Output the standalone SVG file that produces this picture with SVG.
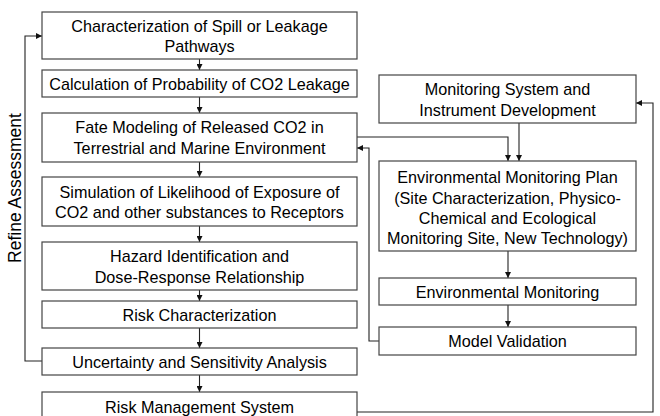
<svg xmlns="http://www.w3.org/2000/svg" width="660" height="416" viewBox="0 0 660 416">
<style>
.box{fill:#fff;stroke:#444;stroke-width:1.2}
.t{font-family:"Liberation Sans",Arial,sans-serif;font-size:16.2px;fill:#000;text-anchor:middle;dominant-baseline:central}
.c{fill:none;stroke:#222;stroke-width:1.1}
</style>
<defs>
<marker id="ah" viewBox="0 0 10 10" refX="10" refY="5" markerWidth="6" markerHeight="6" markerUnits="userSpaceOnUse" orient="auto"><path d="M0,0L10,5L0,10z" fill="#111"/></marker>
</defs>
<rect width="660" height="416" fill="#fff"/>
<g id="connectors">
<path class="c" d="M199.5,59V70" marker-end="url(#ah)"/>
<path class="c" d="M199.5,97V113" marker-end="url(#ah)"/>
<path class="c" d="M199.5,162V177" marker-end="url(#ah)"/>
<path class="c" d="M199.5,226V242" marker-end="url(#ah)"/>
<path class="c" d="M199.5,290V301" marker-end="url(#ah)"/>
<path class="c" d="M199.5,328V348" marker-end="url(#ah)"/>
<path class="c" d="M199.5,375V392" marker-end="url(#ah)"/>
<path class="c" d="M42,361H25V36H42" marker-end="url(#ah)"/>
<path class="c" d="M357,137H508V161" marker-end="url(#ah)"/>
<path class="c" d="M519,123V161" marker-end="url(#ah)"/>
<path class="c" d="M508,251V278" marker-end="url(#ah)"/>
<path class="c" d="M508,305V327" marker-end="url(#ah)"/>
<path class="c" d="M379,341H369V148H357" marker-end="url(#ah)"/>
<path class="c" d="M357,412H653V103H636" marker-end="url(#ah)"/>
</g>
<text class="t" style="font-size:17.5px" transform="translate(15,188) rotate(-90)">Refine Assessment</text>
<g id="n1"><rect class="box" x="42" y="12" width="315" height="47"/><text class="t" x="199.5" y="26">Characterization of Spill or Leakage</text><text class="t" x="199.5" y="46">Pathways</text></g>
<g id="n2"><rect class="box" x="42" y="70" width="315" height="27"/><text class="t" x="199.5" y="84">Calculation of Probability of CO2 Leakage</text></g>
<g id="n3"><rect class="box" x="42" y="113" width="315" height="49"/><text class="t" x="199.5" y="127">Fate Modeling of Released CO2 in</text><text class="t" x="199.5" y="148">Terrestrial and Marine Environment</text></g>
<g id="n4"><rect class="box" x="42" y="177" width="315" height="49"/><text class="t" x="199.5" y="192">Simulation of Likelihood of Exposure of</text><text class="t" x="199.5" y="212">CO2 and other substances to Receptors</text></g>
<g id="n5"><rect class="box" x="42" y="242" width="315" height="48"/><text class="t" x="199.5" y="256">Hazard Identification and</text><text class="t" x="199.5" y="277">Dose-Response Relationship</text></g>
<g id="n6"><rect class="box" x="42" y="301" width="315" height="27"/><text class="t" x="199.5" y="315">Risk Characterization</text></g>
<g id="n7"><rect class="box" x="42" y="348" width="315" height="27"/><text class="t" x="199.5" y="362">Uncertainty and Sensitivity Analysis</text></g>
<g id="n8"><rect class="box" x="42" y="392" width="315" height="30"/><text class="t" x="199.5" y="407">Risk Management System</text></g>
<g id="n9"><rect class="box" x="379" y="75" width="257" height="48"/><text class="t" x="507.5" y="89">Monitoring System and</text><text class="t" x="507.5" y="110">Instrument Development</text></g>
<g id="n10"><rect class="box" x="379" y="161" width="257" height="90"/><text class="t" x="507.5" y="177">Environmental Monitoring Plan</text><text class="t" x="507.5" y="198">(Site Characterization, Physico-</text><text class="t" x="507.5" y="218">Chemical and Ecological</text><text class="t" x="507.5" y="238">Monitoring Site, New Technology)</text></g>
<g id="n11"><rect class="box" x="379" y="278" width="257" height="27"/><text class="t" x="507.5" y="291.5">Environmental Monitoring</text></g>
<g id="n12"><rect class="box" x="379" y="327" width="257" height="28"/><text class="t" x="507.5" y="341">Model Validation</text></g>
</svg>
